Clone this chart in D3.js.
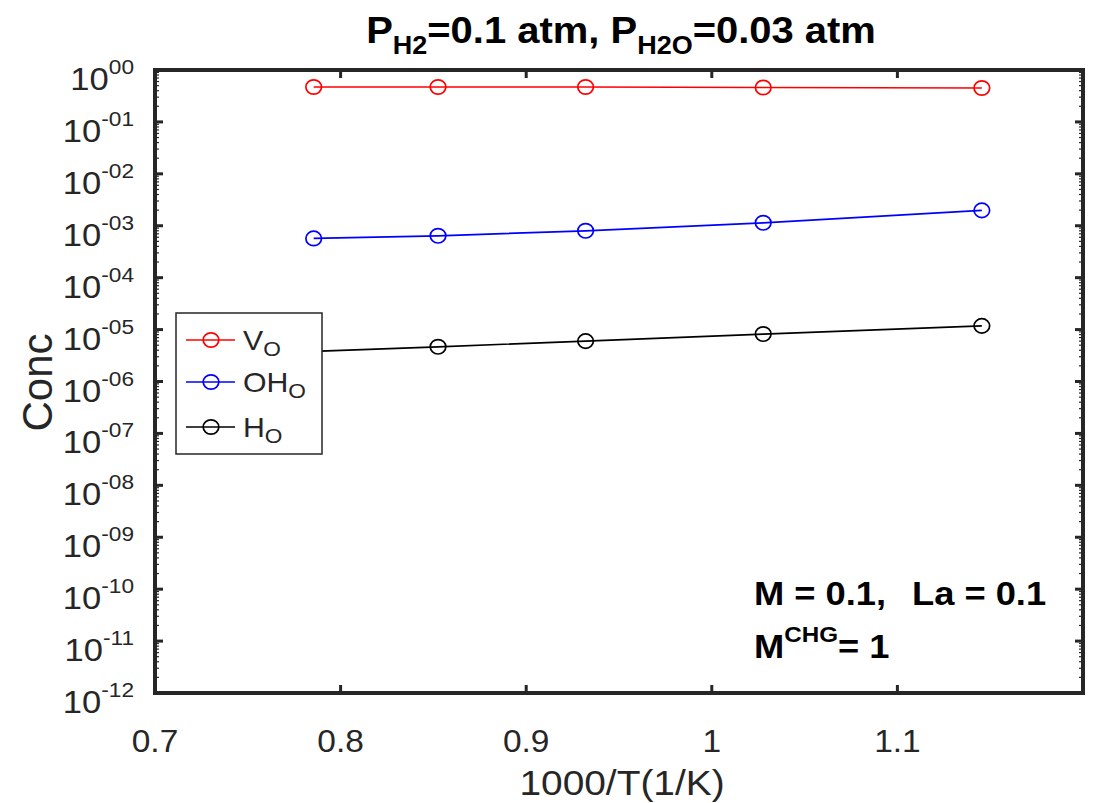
<!DOCTYPE html>
<html>
<head>
<meta charset="utf-8">
<script src="https://cdn.jsdelivr.net/npm/d3@7"></script>
<style>
  body { margin: 0; background: #fff; }
  text { font-family: "Liberation Sans", Arial, sans-serif; }
</style>
</head>
<body>
<div id="chart"></div>
<script>
// Data
const invT = [0.7855, 0.8525, 0.932, 1.0277, 1.1455];
const vO = [0.47, 0.47, 0.47, 0.46, 0.45];
const ohO = [5.7e-4, 6.4e-4, 8.0e-4, 1.14e-3, 1.98e-3];
const hO = [3.8e-6, 4.66e-6, 6.0e-6, 8.2e-6, 1.18e-5];
const xTicks = [0.7, 0.8, 0.9, 1.0, 1.1];
const yTickExps = [0, -1, -2, -3, -4, -5, -6, -7, -8, -9, -10, -11, -12];

const series = [
  { name: "V", sub: "O", values: vO, color: "#ff0000" },
  { name: "OH", sub: "O", values: ohO, color: "#0000ff" },
  { name: "H", sub: "O", values: hO, color: "#000000" }
];

const W = 1099, H = 803;
const margin = { top: 70, right: 16, bottom: 110, left: 155 };
const width = W - margin.left - margin.right;
const height = H - margin.top - margin.bottom;
const SX = 1.08; // the reference text is a little wider than Arial

const svg = d3.select("#chart")
  .append("svg")
  .attr("width", W)
  .attr("height", H);

// place a text element at (px, py), stretched horizontally
function place(sel, px, py, sx = SX) {
  return sel.attr("transform", `translate(${px},${py}) scale(${sx},1)`);
}

const g = svg.append("g")
  .attr("transform", `translate(${margin.left},${margin.top})`);

const x = d3.scaleLinear().domain([0.7, 1.2]).range([0, width]);
const y = d3.scaleLog().domain([1e-12, 1]).range([height, 0]);

// minor ticks on the log axis
const minor = [];
for (let e = -12; e < 0; e++) {
  for (let k = 2; k <= 9; k++) minor.push(k * Math.pow(10, e));
}
g.selectAll(".minorL").data(minor).enter().append("line")
  .attr("x1", 0).attr("x2", 4)
  .attr("y1", (d) => y(d)).attr("y2", (d) => y(d))
  .attr("stroke", "#262626").attr("stroke-width", 1.2);
g.selectAll(".minorR").data(minor).enter().append("line")
  .attr("x1", width).attr("x2", width - 4)
  .attr("y1", (d) => y(d)).attr("y2", (d) => y(d))
  .attr("stroke", "#262626").attr("stroke-width", 1.2);

// major y ticks (left and right, inward)
g.selectAll(".majL").data(yTickExps).enter().append("line")
  .attr("x1", 0).attr("x2", 8)
  .attr("y1", (d) => y(Math.pow(10, d))).attr("y2", (d) => y(Math.pow(10, d)))
  .attr("stroke", "#262626").attr("stroke-width", 3);
g.selectAll(".majR").data(yTickExps).enter().append("line")
  .attr("x1", width).attr("x2", width - 8)
  .attr("y1", (d) => y(Math.pow(10, d))).attr("y2", (d) => y(Math.pow(10, d)))
  .attr("stroke", "#262626").attr("stroke-width", 3);

// x ticks (bottom and top, inward)
g.selectAll(".xB").data(xTicks).enter().append("line")
  .attr("x1", (d) => x(d)).attr("x2", (d) => x(d))
  .attr("y1", height).attr("y2", height - 8)
  .attr("stroke", "#262626").attr("stroke-width", 3);
g.selectAll(".xT").data(xTicks).enter().append("line")
  .attr("x1", (d) => x(d)).attr("x2", (d) => x(d))
  .attr("y1", 0).attr("y2", 8)
  .attr("stroke", "#262626").attr("stroke-width", 3);

// axis box
g.append("rect")
  .attr("width", width).attr("height", height)
  .attr("fill", "none")
  .attr("stroke", "#262626")
  .attr("stroke-width", 4);

// y tick labels: 10^-NN
g.selectAll(".ylab").data(yTickExps).enter().append("text")
  .attr("text-anchor", "end")
  .attr("fill", "#262626")
  .style("font-size", "32px")
  .each(function (d) {
    const t = d3.select(this);
    place(t, -21, y(Math.pow(10, d)) + 20);
    t.append("tspan").text("10");
    t.append("tspan")
      .attr("dy", -16)
      .style("font-size", "21px")
      .text((d < 0 ? "-" : "") + String(Math.abs(d)).padStart(2, "0"));
  });

// x tick labels
g.selectAll(".xlab").data(xTicks).enter().append("text")
  .attr("text-anchor", "middle")
  .attr("fill", "#262626")
  .style("font-size", "31px")
  .each(function (d) {
    place(d3.select(this), x(d), height + 59);
  })
  .text((d) => d3.format("~g")(d));

// axis titles
place(svg.append("text"), margin.left + width / 2 + 3, 795)
  .attr("text-anchor", "middle")
  .attr("fill", "#262626")
  .style("font-size", "36px")
  .text("1000/T(1/K)");

svg.append("text")
  .attr("transform", `translate(52,${margin.top + height / 2 + 1}) rotate(-90)`)
  .attr("text-anchor", "middle")
  .attr("fill", "#262626")
  .style("font-size", "42px")
  .text("Conc");

// title
const title = place(svg.append("text"), 621, 43)
  .attr("text-anchor", "middle")
  .attr("fill", "#000")
  .style("font-size", "37px")
  .style("font-weight", "bold");
title.append("tspan").text("P");
title.append("tspan").attr("dy", 11).style("font-size", "25px").text("H2");
title.append("tspan").attr("dy", -11).text("=0.1 atm, P");
title.append("tspan").attr("dy", 11).style("font-size", "25px").text("H2O");
title.append("tspan").attr("dy", -11).text("=0.03 atm");

// lines and markers
const line = d3.line()
  .x((d, i) => x(invT[i]))
  .y((d) => y(d));

series.forEach((s) => {
  g.append("path")
    .datum(s.values)
    .attr("fill", "none")
    .attr("stroke", s.color)
    .attr("stroke-width", 1.7)
    .attr("d", line);
  g.selectAll(null).data(s.values).enter().append("ellipse")
    .attr("cx", (d, i) => x(invT[i]))
    .attr("cy", (d) => y(d))
    .attr("rx", 7.8).attr("ry", 7.2)
    .attr("fill", "none")
    .attr("stroke", s.color)
    .attr("stroke-width", 1.7);
});

// annotation
const annStyle = (t) => t.style("font-size", "33px").style("font-weight", "bold").attr("fill", "#000");
annStyle(place(svg.append("text"), 754, 605, 1.1)).text("M = 0.1,");
annStyle(place(svg.append("text"), 912, 605, 1.1)).text("La = 0.1");
const ann2 = annStyle(place(svg.append("text"), 754, 658, 1.1));
ann2.append("tspan").text("M");
ann2.append("tspan").attr("dy", -16).style("font-size", "22px").text("CHG");
ann2.append("tspan").attr("dy", 16).text("= 1");

// legend
const legend = svg.append("g").attr("transform", "translate(176,313)");
legend.append("rect")
  .attr("width", 146).attr("height", 141)
  .attr("fill", "#fff")
  .attr("stroke", "#262626")
  .attr("stroke-width", 1.5);
const rowY = [27, 69, 114];
series.forEach((s, i) => {
  const row = legend.append("g").attr("transform", `translate(0,${rowY[i]})`);
  row.append("line")
    .attr("x1", 10).attr("x2", 59)
    .attr("stroke", s.color).attr("stroke-width", 1.7);
  row.append("ellipse")
    .attr("cx", 35).attr("rx", 7.8).attr("ry", 7.2)
    .attr("fill", "none").attr("stroke", s.color).attr("stroke-width", 1.7);
  const t = place(row.append("text"), 67, 10)
    .attr("fill", "#262626")
    .style("font-size", "28px");
  t.append("tspan").text(s.name);
  t.append("tspan").attr("dy", 6).style("font-size", "21px").text(s.sub);
});
</script>
</body>
</html>
